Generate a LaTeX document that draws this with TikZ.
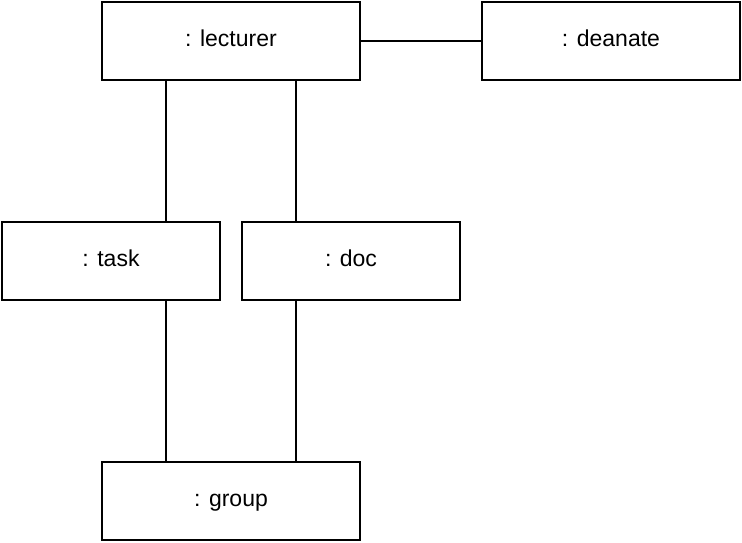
\documentclass[tikz,border=0pt]{standalone}
\usepackage{fontspec}
\setmainfont{Liberation Sans}
\usetikzlibrary{positioning}
\tikzset{
	box/.style = {
		draw = black,
		fill = white,
		rectangle,
		line width = 2pt,
		text centered,
		font = \fontsize{23pt}{27pt}\selectfont,
		text height = 16pt,
		text depth = 5pt,
		minimum height = 78pt,
		minimum width = 258pt
	},
	smallbox/.style = {
		box,
		minimum width = 218pt
	},
	link/.style = {
		line width = 2pt
	}
}
\begin{document}
\begin{tikzpicture}
    \useasboundingbox (-231pt,41pt) rectangle (511pt,-501pt) ;
    \node [box] (lecturer) {: lecturer} ;
    \node [box, right = 120pt of lecturer] (deanate) {: deanate} ;
    \node [smallbox, below = 140pt of lecturer, xshift = -120pt] (task) {: task} ;
    \node [smallbox, right = 20pt of task] (doc) {: doc} ;
    \node [box, below = 380pt of lecturer] (group) {: group} ;

    \draw [link] (lecturer) -- (deanate) ;
    \draw [link] ([xshift=-65pt]lecturer.south) -- ([xshift=55pt]task.north) ;
    \draw [link] ([xshift=65pt]lecturer.south) -- ([xshift=-55pt]doc.north) ;
    \draw [link] ([xshift=55pt]task.south) -- ([xshift=-65pt]group.north) ;
    \draw [link] ([xshift=-55pt]doc.south) -- ([xshift=65pt]group.north) ;
\end{tikzpicture}
\end{document}
